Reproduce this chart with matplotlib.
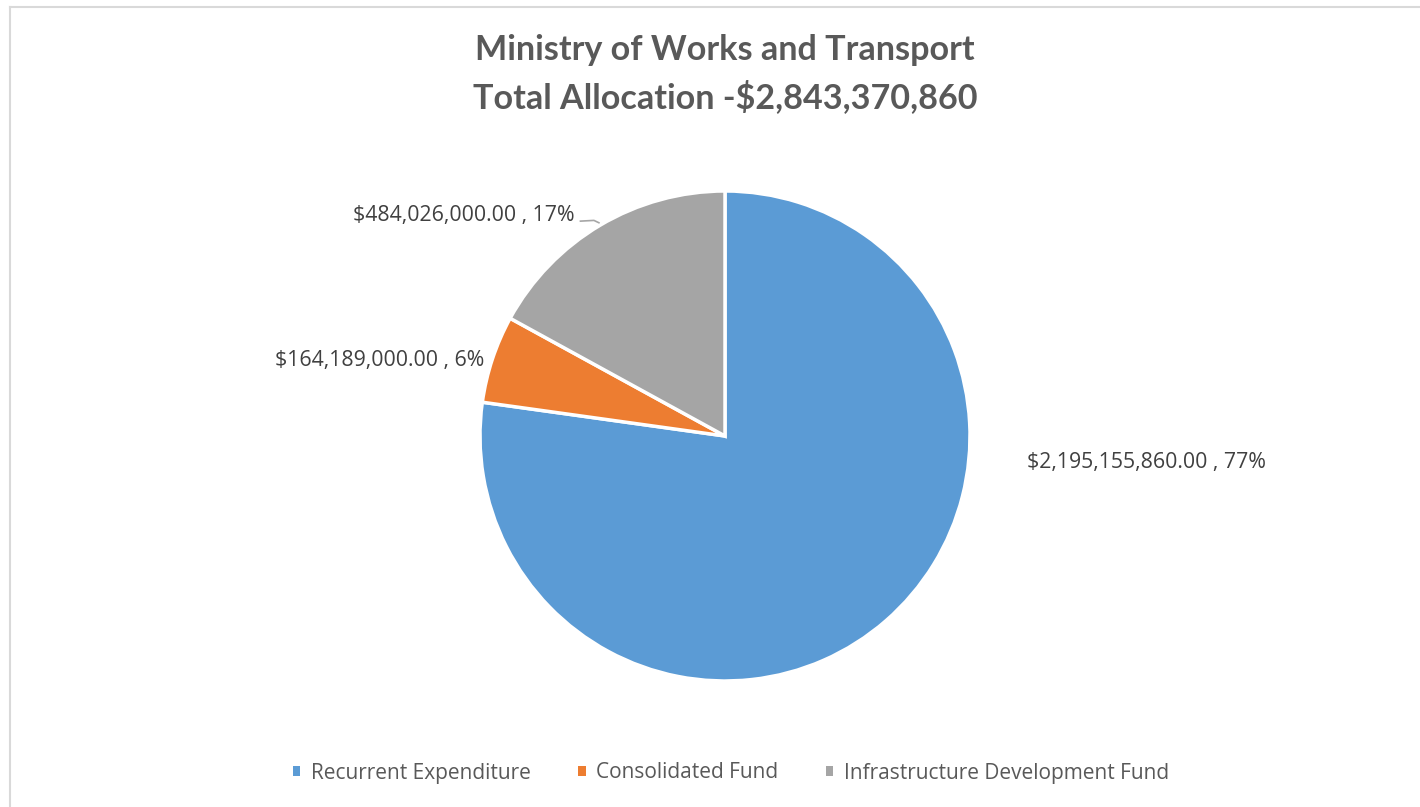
import matplotlib
matplotlib.use("Agg")
import matplotlib.pyplot as plt
from matplotlib.lines import Line2D
from matplotlib.patches import Rectangle
import numpy as np

categories = ["Recurrent Expenditure", "Consolidated Fund", "Infrastructure Development Fund"]
values = [2195155860.00, 164189000.00, 484026000.00]
colors = ["#5B9BD5", "#ED7D31", "#A5A5A5"]
title_lines = ["Ministry of Works and Transport", "Total Allocation -$2,843,370,860"]

W, H = 1420, 807
fig = plt.figure(figsize=(W / 100, H / 100), dpi=100)
fig.patch.set_facecolor("white")

# chart frame (partially cropped)
fig.add_artist(Line2D([10 / W, 10 / W], [0, 1 - 6.5 / H], transform=fig.transFigure, color="#D9D9D9", lw=1.5))
fig.add_artist(Line2D([10 / W, 1], [1 - 6.5 / H, 1 - 6.5 / H], transform=fig.transFigure, color="#D9D9D9", lw=1.5))

cx, cy, r = 725, 807 - 436, 245
ax = fig.add_axes([(cx - r) / W, (cy - r) / H, 2 * r / W, 2 * r / H])
wedges, _ = ax.pie(values, colors=colors, startangle=90, counterclock=False,
                   wedgeprops=dict(edgecolor="white", linewidth=2.5), radius=1)
ax.set_xlim(-1, 1)
ax.set_ylim(-1, 1)
ax.set_aspect("equal")
ax.axis("off")

total = sum(values)
label_pos = [(1.722, -0.110), (-1.408, 0.310), (-1.065, 0.902)]
for v, (lx, ly) in zip(values, label_pos):
    txt = "${:,.2f} , {:.0f}%".format(v, v / total * 100)
    ax.text(lx, ly, txt, ha="center", va="center", fontsize=15.3, color="#404040",
            family="Open Sans", clip_on=False)

# leader line for the grey slice
w = wedges[2]
mid = np.deg2rad((w.theta1 + w.theta2) / 2)
ex, ey = np.cos(mid), np.sin(mid)
ax.add_line(Line2D([-0.59, -0.535, ex - 0.005], [0.877, 0.880, ey + 0.01], color="#A6A6A6", lw=1.2,
                   clip_on=False))

# title
fig.text(725 / W, 1 - 50 / H, title_lines[0], ha="center", va="center", fontsize=24.6,
         fontweight="bold", color="#595959", family="Lato")
fig.text(725 / W, 1 - 97 / H, title_lines[1], ha="center", va="center", fontsize=24.6,
         fontweight="bold", color="#595959", family="Lato")

# legend
handles = [Rectangle((0, 0), 1, 1, facecolor=c, edgecolor="none") for c in colors]
leg = fig.legend(handles, categories, loc="center", bbox_to_anchor=(731 / W, 1 - 773 / H),
                 ncol=3, frameon=False, handlelength=0.35, handleheight=0.35, handletextpad=0.5,
                 columnspacing=2.3, prop=dict(family="Open Sans", size=15))
for t in leg.get_texts():
    t.set_color("#595959")

fig.savefig("out.png", dpi=100, facecolor="white")
